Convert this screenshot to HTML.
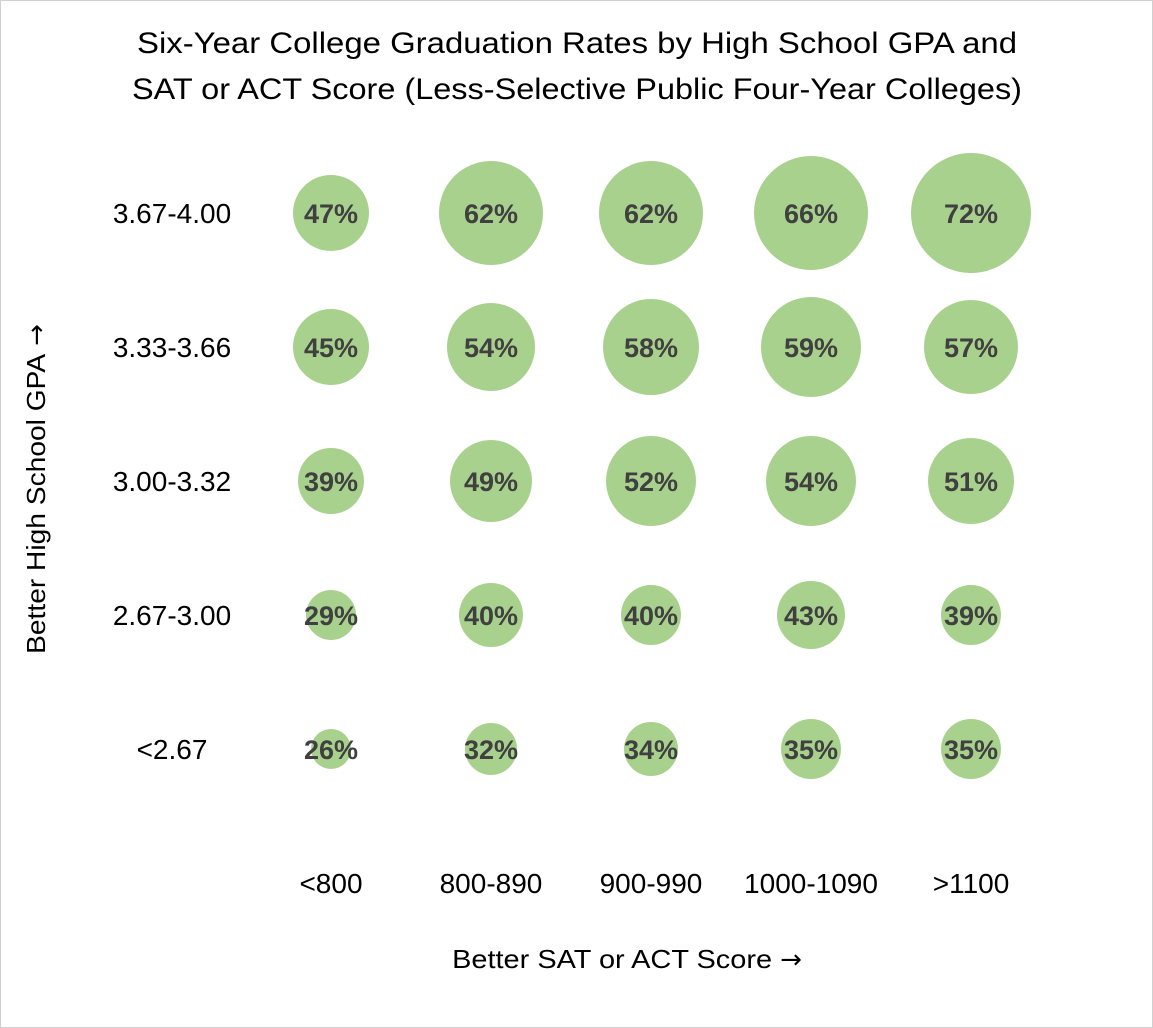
<!DOCTYPE html>
<html><head><meta charset="utf-8"><style>
html,body{margin:0;padding:0;background:#fff}
#wrap{position:relative;width:1151px;height:1026px;border:1px solid #d0d0d0;overflow:hidden}
svg text{font-family:"Liberation Sans",Calibri,sans-serif}
.ar{font-family:"DejaVu Sans",sans-serif}
</style></head><body>
<div id="wrap">
<svg id="chart" width="1151" height="1026">
<text x="576" y="52" text-anchor="middle" font-size="30" textLength="880" lengthAdjust="spacingAndGlyphs" fill="#000">Six-Year College Graduation Rates by High School GPA and</text>
<text x="576" y="98" text-anchor="middle" font-size="30" textLength="890" lengthAdjust="spacingAndGlyphs" fill="#000">SAT or ACT Score (Less-Selective Public Four-Year Colleges)</text>
<text transform="translate(44,488) rotate(-90)" text-anchor="middle" font-size="26" fill="#000"><tspan textLength="300" lengthAdjust="spacingAndGlyphs">Better High School GPA</tspan><tspan class="ar" dx="8" font-size="26">→</tspan></text>
<text x="626" y="967" text-anchor="middle" font-size="26" fill="#000"><tspan textLength="320" lengthAdjust="spacingAndGlyphs">Better SAT or ACT Score</tspan><tspan class="ar" dx="8" font-size="26">→</tspan></text>
<g id="marks"></g>
</svg>
</div>
<script>
const scoreCategories = ["<800","800-890","900-990","1000-1090",">1100"];
const gpaCategories = ["3.67-4.00","3.33-3.66","3.00-3.32","2.67-3.00","<2.67"];
const rates = [
  [47,62,62,66,72],
  [45,54,58,59,57],
  [39,49,52,54,51],
  [29,40,40,43,39],
  [26,32,34,35,35]
];
const bubbleSizes = [
  [38,52,52,57,60],
  [38,44,48,50,47],
  [33,41,45,45,43],
  [25,32,30,34,30],
  [20,26,27,30,30]
];
const NS = "http://www.w3.org/2000/svg";
const g = document.getElementById("marks");
function xPos(i){return 330 + i*160;}
function yPos(j){return 212 + j*134;}
function rScale(s){return s;}
function mk(tag, attrs){const e=document.createElementNS(NS,tag);for(const k in attrs)e.setAttribute(k,attrs[k]);return e;}
scoreCategories.forEach((c,i)=>{
  const t=mk("text",{x:xPos(i),y:892,"text-anchor":"middle","font-size":"28",fill:"#000"});
  
  
  t.textContent=c; g.appendChild(t);
});
gpaCategories.forEach((c,j)=>{
  const t=mk("text",{x:171,y:yPos(j)+10,"text-anchor":"middle","font-size":"28",fill:"#000"});
  
  
  t.textContent=c; g.appendChild(t);
});
rates.forEach((row,j)=>{
  row.forEach((v,i)=>{
    const c=mk("circle",{cx:xPos(i),cy:yPos(j),r:rScale(bubbleSizes[j][i]),fill:"#a9d18e"});
    
    
    g.appendChild(c);
    const t=mk("text",{x:xPos(i),y:yPos(j)+10,"text-anchor":"middle","font-size":"27","font-weight":"bold",fill:"#404040"});
    
    
    t.textContent=v+"%"; g.appendChild(t);
  });
});
</script>
</body></html>
